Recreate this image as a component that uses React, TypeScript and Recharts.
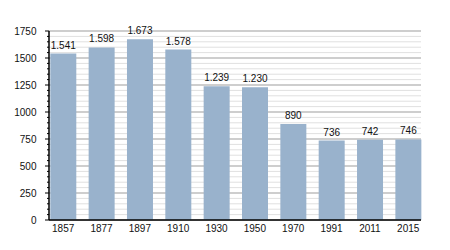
import { BarChart, Bar, XAxis, YAxis, CartesianGrid, LabelList } from "recharts";

const years = ["1857", "1877", "1897", "1910", "1930", "1950", "1970", "1991", "2011", "2015"];
const population = [1541, 1598, 1673, 1578, 1239, 1230, 890, 736, 742, 746];
const yTicks = [0, 250, 500, 750, 1000, 1250, 1500, 1750];
const minorTicks = Array.from({ length: 36 }, (_, i) => i * 50);

const data = years.map((year, i) => ({ year, value: population[i] }));

const FONT = "'Liberation Sans', Arial, sans-serif";

// left axis: labels only on every 250, short ticks on every 50
function YTick(props: any) {
  const { x, y, payload } = props;
  const major = payload.value % 250 === 0;
  return (
    <g>
      <line x1={x - (major ? 4 : 2)} x2={x} y1={y} y2={y} stroke="#000" strokeWidth={1} />
      {major && (
        <text x={x - 12.5} y={y} dy="0.355em" textAnchor="end" fontSize={10} fill="#111" fontFamily={FONT}>
          {payload.value}
        </text>
      )}
    </g>
  );
}

export default function App() {
  return (
    <div style={{ position: "absolute", left: 0, top: 0, background: "#fff" }}>
      <BarChart
        width={450}
        height={250}
        data={data}
        margin={{ top: 31, right: 29, bottom: 10, left: 0 }}
        barCategoryGap={6.3}
      >
        <CartesianGrid vertical={false} horizontalValues={minorTicks} stroke="#e0e0e0" strokeWidth={1} />
        <CartesianGrid vertical={false} horizontalValues={yTicks} stroke="#adadad" strokeWidth={1} />
        <XAxis
          dataKey="year"
          height={20}
          padding={{ left: -5, right: -6.4 }}
          tickLine={false}
          tickSize={0}
          tickMargin={5}
          axisLine={{ stroke: "#000", strokeWidth: 1.5 }}
          tick={{ fontSize: 10, fill: "#111", fontFamily: FONT }}
          interval={0}
        />
        <YAxis
          width={49}
          domain={[0, 1750]}
          ticks={minorTicks}
          interval={0}
          tickLine={false}
          tickSize={0}
          tickMargin={0}
          axisLine={{ stroke: "#000", strokeWidth: 1.5 }}
          tick={<YTick />}
        />
        <Bar dataKey="value" fill="#99b2cc" isAnimationActive={false}>
          <LabelList
            dataKey="value"
            position="top"
            offset={5}
            formatter={(v: any) => v.toLocaleString("de-DE")}
            style={{ fontSize: 10, fill: "#111", fontFamily: FONT }}
          />
        </Bar>
      </BarChart>
    </div>
  );
}
